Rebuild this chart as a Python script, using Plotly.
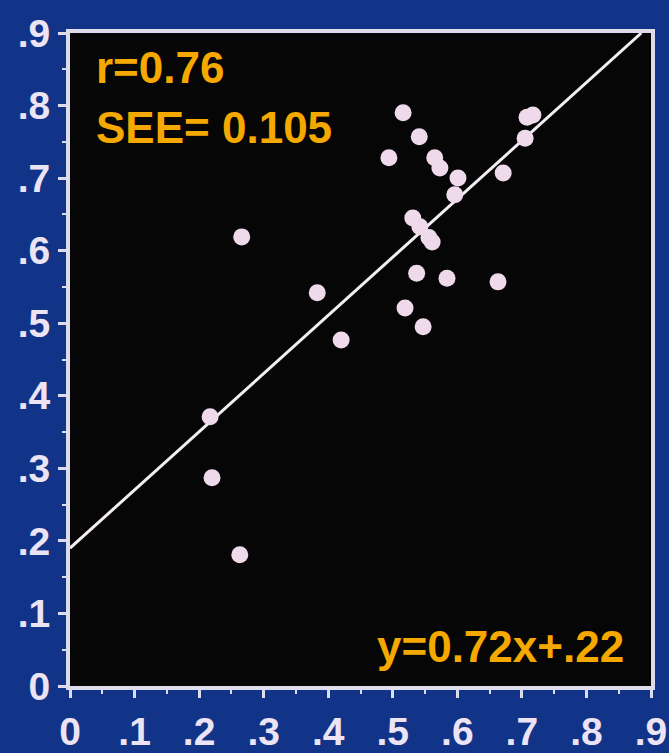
import plotly.graph_objects as go

# Data
x_vals = [0.266, 0.383, 0.420, 0.217, 0.220, 0.263,
          0.516, 0.541, 0.494, 0.565, 0.573, 0.601, 0.596,
          0.671, 0.708, 0.717, 0.705,
          0.531, 0.542, 0.556, 0.561,
          0.537, 0.584, 0.663, 0.519, 0.547]
y_vals = [0.619, 0.542, 0.477, 0.371, 0.287, 0.181,
          0.790, 0.757, 0.728, 0.728, 0.714, 0.700, 0.677,
          0.707, 0.784, 0.787, 0.755,
          0.645, 0.633, 0.618, 0.612,
          0.569, 0.562, 0.557, 0.521, 0.495]

# regression line as drawn (end points)
line_x = [0.0, 0.885]
line_y = [0.19, 0.90]

tick_vals = [0, 0.1, 0.2, 0.3, 0.4, 0.5, 0.6, 0.7, 0.8, 0.9]
tick_text = ["0", ".1", ".2", ".3", ".4", ".5", ".6", ".7", ".8", ".9"]

r_text = "r=0.76"
see_text = "SEE= 0.105"
eq_text = "y=0.72x+.22"

BG = "#113488"
FG = "#ece4f4"
ORANGE = "#f5a800"
FONT = "Liberation Sans, Arial, sans-serif"

fig = go.Figure()

fig.add_trace(go.Scatter(
    x=line_x, y=line_y, mode="lines",
    line=dict(color="#f4eef4", width=3),
    hoverinfo="skip", showlegend=False))

fig.add_trace(go.Scatter(
    x=x_vals, y=y_vals, mode="markers",
    marker=dict(size=17, color="#efdaec", line=dict(width=0)),
    showlegend=False))

axis_common = dict(
    range=[0, 0.9],
    automargin=False,
    tickmode="array", tickvals=tick_vals, ticktext=tick_text,
    showgrid=False, zeroline=False,
    showline=True, mirror=True, linewidth=4, linecolor="#dcdcec",
    ticks="outside", ticklen=8, tickwidth=3, tickcolor="#dcdcec",
    minor=dict(ticks="outside", ticklen=4, tickwidth=2, dtick=0.05,
               tickcolor="#dcdcec", showgrid=False),
    tickfont=dict(family=FONT, size=39, color=FG, weight="bold"),
    fixedrange=True,
)

fig.update_xaxes(**axis_common)
fig.update_yaxes(**axis_common)

ann_font = dict(family=FONT, size=44, color=ORANGE, weight="bold")
fig.add_annotation(x=0.037, y=0.852, xref="x", yref="y", text=r_text,
                   showarrow=False, xanchor="left", yanchor="middle", font=ann_font)
fig.add_annotation(x=0.037, y=0.770, xref="x", yref="y", text=see_text,
                   showarrow=False, xanchor="left", yanchor="middle", font=ann_font)
fig.add_annotation(x=0.862, y=0.054, xref="x", yref="y", text=eq_text,
                   showarrow=False, xanchor="right", yanchor="middle", font=ann_font)

fig.update_layout(
    width=669, height=753,
    margin=dict(l=70, r=18, t=33, b=67),
    paper_bgcolor=BG, plot_bgcolor="#060606",
    showlegend=False,
)

fig.write_html("out.html")
